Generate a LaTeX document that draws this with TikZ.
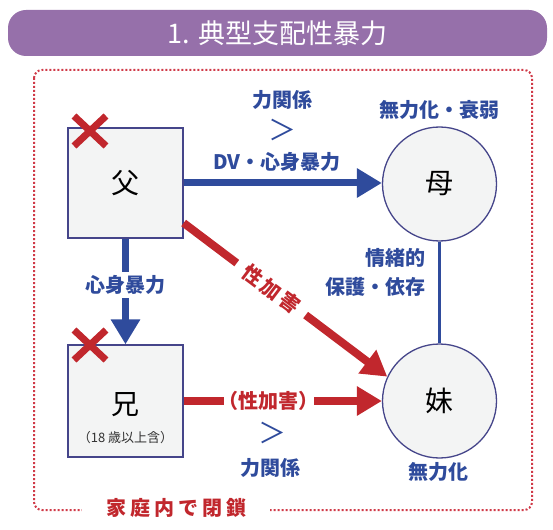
\documentclass[tikz,border=0pt]{standalone}
\usepackage{fontspec}
\setmainfont{Noto Sans CJK JP}
\usetikzlibrary{arrows.meta}
\definecolor{tblue}{HTML}{2F4B9C}
\definecolor{tred}{HTML}{C1272D}
\definecolor{tpurple}{HTML}{9670AA}
\definecolor{tfill}{HTML}{F3F4F4}
\definecolor{tedge}{HTML}{45458A}
\definecolor{tframe}{HTML}{D03A48}
\begin{document}
\begin{tikzpicture}[x=1pt,y=-1pt,
  person/.style={draw=tedge, line width=1.3pt, fill=tfill, font=\fontsize{28}{30}\selectfont, text=black},
  pbox/.style={person, rectangle, minimum width=115pt, minimum height=110pt},
  pcirc/.style={person, circle, minimum size=114pt, inner sep=0pt},
  bluetext/.style={text=tblue, font=\bfseries\fontsize{20}{29}\selectfont},
  redtext/.style={text=tred, font=\bfseries\fontsize{20}{24}\selectfont},
  bigchev/.style={text=tblue, font=\fontsize{28}{28}\selectfont, inner sep=0pt},
  bluearrow/.style={draw=tblue, line width=7pt, -{Triangle[length=25pt,width=28pt]}},
  redarrow/.style={draw=tred, line width=8pt, -{Triangle[length=25pt,width=28pt]}},
  crossmark/.style={draw=tred, line width=7pt},
]
\useasboundingbox (0,0) rectangle (553,529);
% title bar
\node[fill=tpurple, rounded corners=18pt, minimum width=539pt, minimum height=46pt,
      text=white, font=\fontsize{27}{30}\selectfont] (title) at (277.5,33) {1. 典型支配性暴力};
% dotted family frame
\draw[tframe, line width=2pt, dash pattern=on 2pt off 2pt, rounded corners=8pt] (34,70) rectangle (532,510);
\node[redtext, fill=white, inner xsep=24pt, inner ysep=2pt,
      font=\bfseries\fontsize{20}{24}\selectfont\addfontfeature{LetterSpace=20}] (closed) at (176,508) {家庭内で閉鎖};
% persons
\node[pbox] (fa) at (125.5,183) {父};
\node[pbox, minimum height=112pt] (br) at (125.5,401) {};
\node[text=black, font=\fontsize{28}{30}\selectfont] (brname) at (125.5,405) {兄};
\node[text=black!80, font=\fontsize{13}{15}\selectfont] (brnote) at (125.5,438) {（18 歳以上含）};
\node[pcirc] (mo) at (439.5,184) {母};
\node[pcirc] (si) at (439.5,401) {妹};
% crosses
\coordinate (xf) at (90,131);
\coordinate (xb) at (90,345);
\draw[crossmark, shift={(xf)}] (-16,-15) -- (16,15) (-16,15) -- (16,-15);
\draw[crossmark, shift={(xb)}] (-16,-15) -- (16,15) (-16,15) -- (16,-15);
% connectors
\draw[bluearrow] (fa.east) -- (fa.east -| mo.west);
\draw[bluearrow] (fa.south) -- (br.north) node[pos=0.44, fill=white, bluetext] (lblv) {心身暴力};
\draw[redarrow] ([yshift=-40pt]fa.east) -- (si.155) node[pos=0.43, sloped, fill=white, inner xsep=10pt, text=tred,
      font=\bfseries\fontsize{20}{24}\selectfont\addfontfeature{LetterSpace=15}] (lbld) {性加害};
\draw[redarrow] (br.east) -- (br.east -| si.west) node[pos=0.43, fill=white, redtext, inner xsep=-5pt] (lblh) {（性加害）};
\draw[tblue, line width=3pt] (mo.south) -- (si.north);
% labels
\node[bluetext, align=right, anchor=east] (emo) at (429,272) {情緒的\\保護・依存};
\node[bluetext] (pw1) at (282.5,100) {力関係};
\node[bigchev] (gt1) at (282,130) {＞};
\node[bluetext] (dv) at (277,162) {DV・心身暴力};
\node[bluetext] (mol) at (439.5,110) {無力化・衰弱};
\node[bluetext] (sil) at (438.5,472) {無力化};
\node[bigchev] (gt2) at (272,433) {＞};
\node[bluetext] (pw2) at (270,468) {力関係};
\end{tikzpicture}
\end{document}
